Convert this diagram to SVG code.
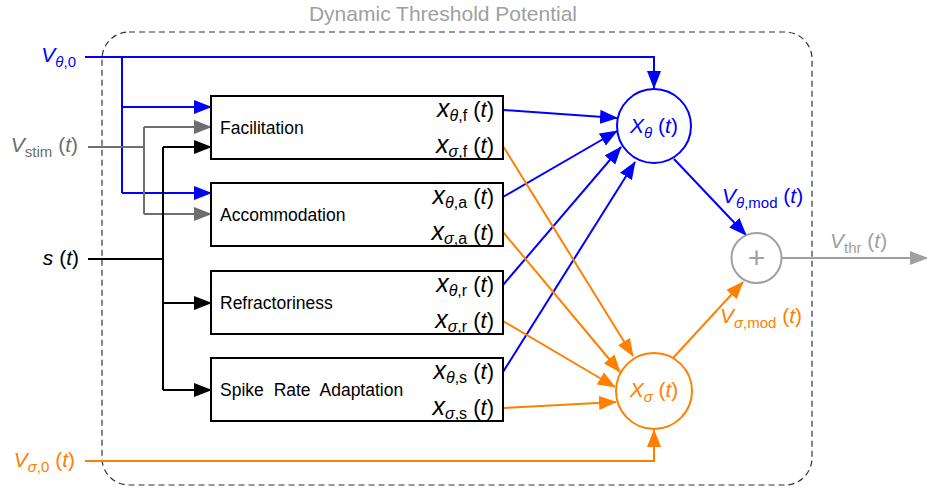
<svg xmlns="http://www.w3.org/2000/svg" width="927" height="492" viewBox="0 0 927 492">
<style>
text{font-family:"Liberation Sans",Arial,sans-serif}
.lbl{font-size:17.5px;fill:#000}
.m{font-size:21px}
.mo{font-size:22px}
.xl{font-size:25px}
.i{font-style:italic}
.sub{font-size:15px}
.sub2{font-size:16px}
.box{fill:#fff;stroke:#000;stroke-width:2}
.ln{fill:none;stroke-width:2}
.b{stroke:#0000ff}.o{stroke:#ff8000}.g{stroke:#6e6e6e}.k{stroke:#000}.lg{stroke:#a0a0a0}
.fb{fill:#0000ff}.fo{fill:#ff8000}.fg{fill:#6e6e6e}.fk{fill:#000}.flg{fill:#a0a0a0}
</style>
<defs>
<marker id="ab" markerUnits="userSpaceOnUse" markerWidth="18" markerHeight="14" refX="17" refY="7" orient="auto" viewBox="0 0 18 14"><path d="M0,0 L18,7 L0,14 z" fill="#0000ff"/></marker>
<marker id="ao" markerUnits="userSpaceOnUse" markerWidth="18" markerHeight="14" refX="17" refY="7" orient="auto" viewBox="0 0 18 14"><path d="M0,0 L18,7 L0,14 z" fill="#ff8000"/></marker>
<marker id="ag" markerUnits="userSpaceOnUse" markerWidth="18" markerHeight="14" refX="17" refY="7" orient="auto" viewBox="0 0 18 14"><path d="M0,0 L18,7 L0,14 z" fill="#6e6e6e"/></marker>
<marker id="ak" markerUnits="userSpaceOnUse" markerWidth="18" markerHeight="14" refX="17" refY="7" orient="auto" viewBox="0 0 18 14"><path d="M0,0 L18,7 L0,14 z" fill="#000"/></marker>
<marker id="alg" markerUnits="userSpaceOnUse" markerWidth="18" markerHeight="14" refX="17" refY="7" orient="auto" viewBox="0 0 18 14"><path d="M0,0 L18,7 L0,14 z" fill="#a0a0a0"/></marker>
</defs>
<rect width="927" height="492" fill="#fff"/>

<g id="container">
<rect x="102" y="32" width="710" height="453" rx="27" fill="none" stroke="#333" stroke-width="1.2" stroke-dasharray="6,4"/>
<text x="443" y="21" text-anchor="middle" font-size="21" fill="#a0a0a0">Dynamic Threshold Potential</text>
</g>

<g id="inputs">
<text class="m fb" x="76" y="62" text-anchor="end"><tspan class="i">V</tspan><tspan class="sub" dy="5"><tspan class="i">θ</tspan>,0</tspan></text>
<text class="m fg" x="78" y="152" text-anchor="end"><tspan class="i">V</tspan><tspan class="sub" dy="5">stim</tspan><tspan dy="-5"> (</tspan><tspan class="i">t</tspan>)</text>
<text class="m fk" x="79" y="265" text-anchor="end"><tspan class="i">s</tspan> (<tspan class="i">t</tspan>)</text>
<text class="m fo" x="75" y="467" text-anchor="end"><tspan class="i">V</tspan><tspan class="sub" dy="5"><tspan class="i">σ</tspan>,0</tspan><tspan dy="-5"> (</tspan><tspan class="i">t</tspan>)</text>
</g>

<g id="connectors">
<path class="ln b" d="M85,57 H654 V88" marker-end="url(#ab)"/>
<path class="ln b" d="M122,57 V193"/>
<path class="ln b" d="M122,107 H211" marker-end="url(#ab)"/>
<path class="ln b" d="M122,193 H211" marker-end="url(#ab)"/>
<path class="ln g" d="M88,147 H144"/>
<path class="ln g" d="M144,127 V214"/>
<path class="ln g" d="M144,127 H211" marker-end="url(#ag)"/>
<path class="ln g" d="M144,214 H211" marker-end="url(#ag)"/>
<path class="ln k" d="M88,259 H163"/>
<path class="ln k" d="M163,147 V390"/>
<path class="ln k" d="M163,147 H211" marker-end="url(#ak)"/>
<path class="ln k" d="M163,303 H211" marker-end="url(#ak)"/>
<path class="ln k" d="M163,390 H211" marker-end="url(#ak)"/>
<path class="ln o" d="M85,461 H654 V430" marker-end="url(#ao)"/>
<path class="ln b" d="M503,110 L617,118" marker-end="url(#ab)"/>
<path class="ln b" d="M503,197 L617,131" marker-end="url(#ab)"/>
<path class="ln b" d="M503,285 L621,147" marker-end="url(#ab)"/>
<path class="ln b" d="M503,372 L635,162" marker-end="url(#ab)"/>
<path class="ln o" d="M503,146 L633,356" marker-end="url(#ao)"/>
<path class="ln o" d="M503,232 L620,372" marker-end="url(#ao)"/>
<path class="ln o" d="M503,321 L615,387" marker-end="url(#ao)"/>
<path class="ln o" d="M503,408 L616,402" marker-end="url(#ao)"/>
<path class="ln b" d="M674,159 L746,235" marker-end="url(#ab)"/>
<path class="ln o" d="M673,358 L743,282" marker-end="url(#ao)"/>
<path class="ln lg" d="M782,258 H927" marker-end="url(#alg)"/>
<text class="m fb" x="722" y="203"><tspan class="i">V</tspan><tspan class="sub" dy="5"><tspan class="i">θ</tspan>,mod</tspan><tspan dy="-5"> (</tspan><tspan class="i">t</tspan>)</text>
<text class="m fo" x="720" y="323"><tspan class="i">V</tspan><tspan class="sub" dy="5"><tspan class="i">σ</tspan>,mod</tspan><tspan dy="-5"> (</tspan><tspan class="i">t</tspan>)</text>
<text class="m flg" x="830" y="248"><tspan class="i">V</tspan><tspan class="sub" dy="5">thr</tspan><tspan dy="-5"> (</tspan><tspan class="i">t</tspan>)</text>
</g>

<g id="facilitation">
<rect class="box" x="211" y="96" width="292" height="63"/>
<text class="lbl" x="220" y="134">Facilitation</text>
<text class="mo" x="494" y="117" text-anchor="end"><tspan class="i xl">x</tspan><tspan class="sub2" dy="4"><tspan class="i">θ</tspan>,f</tspan><tspan dy="-4"> (</tspan><tspan class="i">t</tspan>)</text>
<text class="mo" x="494" y="153" text-anchor="end"><tspan class="i xl">x</tspan><tspan class="sub2" dy="4"><tspan class="i">σ</tspan>,f</tspan><tspan dy="-4"> (</tspan><tspan class="i">t</tspan>)</text>
</g>
<g id="accommodation">
<rect class="box" x="211" y="183" width="292" height="63"/>
<text class="lbl" x="220" y="221">Accommodation</text>
<text class="mo" x="494" y="204" text-anchor="end"><tspan class="i xl">x</tspan><tspan class="sub2" dy="4"><tspan class="i">θ</tspan>,a</tspan><tspan dy="-4"> (</tspan><tspan class="i">t</tspan>)</text>
<text class="mo" x="494" y="240" text-anchor="end"><tspan class="i xl">x</tspan><tspan class="sub2" dy="4"><tspan class="i">σ</tspan>,a</tspan><tspan dy="-4"> (</tspan><tspan class="i">t</tspan>)</text>
</g>
<g id="refractoriness">
<rect class="box" x="211" y="271" width="292" height="63"/>
<text class="lbl" x="220" y="309">Refractoriness</text>
<text class="mo" x="494" y="292" text-anchor="end"><tspan class="i xl">x</tspan><tspan class="sub2" dy="4"><tspan class="i">θ</tspan>,r</tspan><tspan dy="-4"> (</tspan><tspan class="i">t</tspan>)</text>
<text class="mo" x="494" y="328" text-anchor="end"><tspan class="i xl">x</tspan><tspan class="sub2" dy="4"><tspan class="i">σ</tspan>,r</tspan><tspan dy="-4"> (</tspan><tspan class="i">t</tspan>)</text>
</g>
<g id="spike-rate-adaptation">
<rect class="box" x="211" y="358" width="292" height="63"/>
<text class="lbl" x="220" y="396" word-spacing="5">Spike Rate Adaptation</text>
<text class="mo" x="494" y="379" text-anchor="end"><tspan class="i xl">x</tspan><tspan class="sub2" dy="4"><tspan class="i">θ</tspan>,s</tspan><tspan dy="-4"> (</tspan><tspan class="i">t</tspan>)</text>
<text class="mo" x="494" y="415" text-anchor="end"><tspan class="i xl">x</tspan><tspan class="sub2" dy="4"><tspan class="i">σ</tspan>,s</tspan><tspan dy="-4"> (</tspan><tspan class="i">t</tspan>)</text>
</g>

<g id="x-theta">
<circle cx="654" cy="126" r="37" fill="#fff" stroke="#0000ff" stroke-width="2"/>
<text class="m fb" x="654" y="133" text-anchor="middle"><tspan class="i">X</tspan><tspan class="sub i" dy="5">θ</tspan><tspan dy="-5"> (</tspan><tspan class="i">t</tspan>)</text>
</g>
<g id="x-sigma">
<circle cx="654" cy="391" r="38" fill="#fff" stroke="#ff8000" stroke-width="2"/>
<text class="m fo" x="654" y="397" text-anchor="middle"><tspan class="i">X</tspan><tspan class="sub i" dy="5">σ</tspan><tspan dy="-5"> (</tspan><tspan class="i">t</tspan>)</text>
</g>
<g id="sum">
<circle cx="756.5" cy="258" r="25" fill="#fff" stroke="#a0a0a0" stroke-width="2"/>
<text x="756.5" y="268" text-anchor="middle" font-size="30" fill="#a0a0a0">+</text>
</g>
</svg>
